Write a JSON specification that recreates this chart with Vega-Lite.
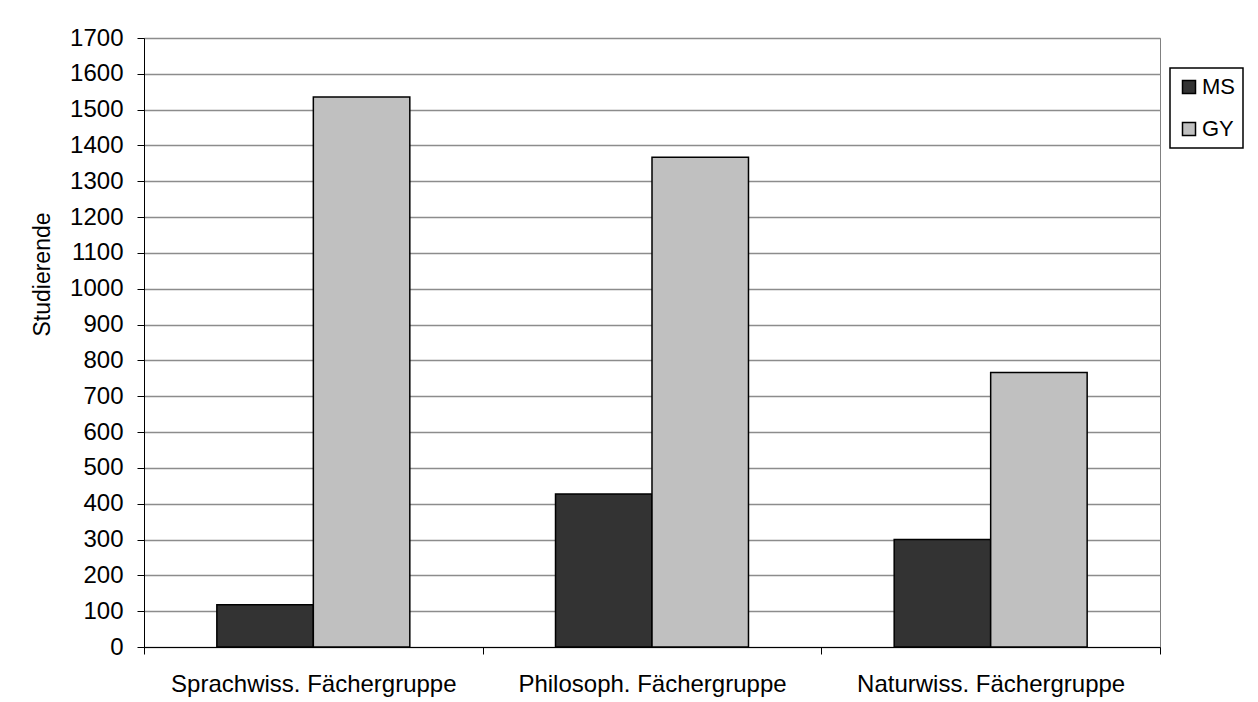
{
  "$schema": "https://vega.github.io/schema/vega-lite/v6.json",
  "autosize": {"type": "none"},
  "padding": {"left": 144, "top": 38, "right": 98, "bottom": 55},
  "width": 1016,
  "height": 609,
  "background": "white",
  "config": {
    "font": "Liberation Sans",
    "view": {"stroke": "#808080", "strokeWidth": 1},
    "legend": {"strokeColor": "#000000", "strokeWidth": 1.5, "fillColor": "white", "symbolStrokeWidth": 1.5}
  },
  "data": {
    "values": [
      {"gruppe": "Sprachwiss. Fächergruppe", "serie": "MS", "wert": 118},
      {"gruppe": "Sprachwiss. Fächergruppe", "serie": "GY", "wert": 1535},
      {"gruppe": "Philosoph. Fächergruppe", "serie": "MS", "wert": 427},
      {"gruppe": "Philosoph. Fächergruppe", "serie": "GY", "wert": 1367},
      {"gruppe": "Naturwiss. Fächergruppe", "serie": "MS", "wert": 300},
      {"gruppe": "Naturwiss. Fächergruppe", "serie": "GY", "wert": 766}
    ]
  },
  "mark": {"type": "bar", "stroke": "black", "strokeWidth": 1.5},
  "encoding": {
    "x": {
      "field": "gruppe",
      "type": "nominal",
      "sort": ["Sprachwiss. Fächergruppe", "Philosoph. Fächergruppe", "Naturwiss. Fächergruppe"],
      "scale": {"paddingInner": 0, "paddingOuter": 0},
      "axis": {
        "title": null,
        "labelAngle": 0,
        "labelLimit": 0,
        "tickBand": "extent",
        "tickSize": 7,
        "tickColor": "#000000",
        "domainColor": "#000000",
        "labelFontSize": 24,
        "labelColor": "#000000",
        "labelPadding": 18,
        "grid": false
      }
    },
    "xOffset": {
      "field": "serie",
      "type": "nominal",
      "sort": ["MS", "GY"],
      "scale": {"paddingInner": 0, "paddingOuter": 0.755}
    },
    "y": {
      "field": "wert",
      "type": "quantitative",
      "scale": {"domain": [0, 1700], "nice": false},
      "axis": {
        "title": "Studierende",
        "titleFontSize": 23,
        "titleFontWeight": "normal",
        "titleColor": "#000000",
        "titleX": -90,
        "titleY": 236,
        "format": "d",
        "values": [0, 100, 200, 300, 400, 500, 600, 700, 800, 900, 1000, 1100, 1200, 1300, 1400, 1500, 1600, 1700],
        "labelFontSize": 24,
        "labelColor": "#000000",
        "labelPadding": 14,
        "tickSize": 7,
        "tickColor": "#000000",
        "domainColor": "#000000",
        "gridColor": "#8c8c8c",
        "gridWidth": 1.5,
        "gridOpacity": 1
      }
    },
    "fill": {
      "field": "serie",
      "type": "nominal",
      "sort": ["MS", "GY"],
      "scale": {"domain": ["MS", "GY"], "range": ["#333333", "#c0c0c0"]},
      "legend": {
        "title": null,
        "orient": "none",
        "legendX": 1026,
        "legendY": 30,
        "symbolType": "square",
        "symbolSize": 169,
        "symbolStrokeColor": "#000000",
        "labelFontSize": 22,
        "labelColor": "#000000",
        "labelOffset": 2,
        "rowPadding": 20,
        "padding": 8
      }
    }
  }
}
